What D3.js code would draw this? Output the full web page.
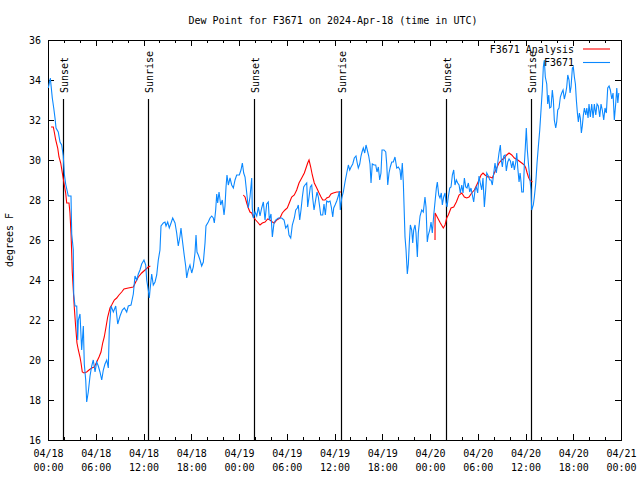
<!DOCTYPE html>
<html><head><meta charset="utf-8">
<script src="https://cdn.jsdelivr.net/npm/d3@7"></script>
<style>
body{margin:0;background:#fff}
text{font-family:"DejaVu Sans Mono","Liberation Mono",monospace;font-size:10px;fill:#000}
</style>
</head><body>
<svg id="chart" width="640" height="480"></svg>
<script>
// ---- data (hours since 2024-04-18 00:00 UTC, degrees F) ----
const titleText = "Dew Point for F3671 on 2024-Apr-18 (time in UTC)";
const yLabel = "degrees F";
const seriesNames = ["F3671 Analysis", "F3671"];
const seriesColors = ["#ff0000", "#0a88ff"];

const obsSeries = [
[0.04,33.6],[0.29,34.1],[0.54,33.1],[0.72,32.6],[0.88,32.1],[1.01,31.6],[1.29,31.4],[1.51,30.9],[1.72,30.75],[1.92,30.2],
[2.05,29.3],[2.22,28.8],[2.55,28.2],[2.89,28.2],[2.98,26.3],[3.18,25.5],[3.23,23.3],[3.39,22.7],[3.61,22.7],[3.73,21.0],
[3.81,22.0],[4.02,22.3],[4.23,20.5],[4.44,21.7],[4.56,19.8],[4.74,19.0],[4.86,17.9],[5.06,18.4],[5.28,19.2],[5.49,19.7],
[5.69,20.0],[5.91,19.4],[6.12,19.9],[6.32,19.7],[6.53,19.4],[6.75,19.0],[6.95,19.5],[7.16,19.8],[7.38,20.0],[7.58,19.6],
[7.70,21.5],[7.92,22.7],[8.21,22.4],[8.51,22.7],[8.76,21.8],[9.05,22.2],[9.34,22.5],[9.59,22.6],[9.89,22.4],[10.09,22.7],
[10.43,22.75],[10.72,23.3],[10.93,24.2],[11.15,24.0],[11.35,24.3],[11.56,24.5],[11.77,24.8],[12.06,25.0],[12.28,24.75],[12.40,24.0],
[12.60,23.5],[12.73,23.1],[12.82,23.5],[13.03,24.3],[13.23,23.75],[13.45,23.9],[13.66,24.25],[13.86,25.0],[14.07,25.5],[14.20,26.7],
[14.49,26.85],[14.70,26.9],[14.83,26.7],[15.04,26.9],[15.24,26.6],[15.46,26.85],[15.67,27.1],[15.96,26.85],[16.17,26.35],[16.37,25.7],
[16.59,26.2],[16.71,26.6],[16.88,26.0],[17.13,25.2],[17.30,24.7],[17.43,24.1],[17.63,24.5],[17.84,24.75],[18.06,24.35],[18.26,24.65],
[18.47,25.35],[18.60,26.25],[18.72,25.4],[18.89,25.25],[19.10,25.0],[19.31,24.7],[19.52,24.9],[19.73,25.85],[19.85,26.7],[20.14,26.9],
[20.36,27.1],[20.57,27.2],[20.77,27.1],[20.90,26.85],[21.07,27.5],[21.20,28.3],[21.32,27.85],[21.49,28.4],[21.70,27.75],[21.90,28.0],
[22.12,27.25],[22.24,27.7],[22.37,28.65],[22.49,29.25],[22.66,28.75],[22.87,29.1],[23.08,28.75],[23.29,28.6],[23.50,29.0],[23.71,29.25],
[24.04,29.25],[24.25,29.5],[24.42,29.85],[24.59,29.35],[24.76,29.15],[24.97,28.35],[25.17,27.6],[25.38,28.15],[25.60,29.1],[25.67,27.6],
[25.80,27.1],[26.01,27.4],[26.23,27.2],[26.43,27.65],[26.64,27.2],[26.85,27.6],[27.06,27.9],[27.27,27.0],[27.48,27.8],[27.68,27.9],
[27.81,27.0],[28.02,27.3],[28.19,26.15],[28.40,26.85],[28.61,27.0],[28.94,27.1],[29.37,27.1],[29.66,27.0],[29.87,26.6],[30.12,26.75],
[30.28,26.25],[30.50,26.1],[30.70,26.75],[30.95,27.1],[31.13,27.5],[31.33,27.6],[31.45,27.75],[31.63,27.0],[31.79,27.5],[31.96,28.15],
[32.13,28.65],[32.29,28.75],[32.51,28.85],[32.63,27.65],[32.80,28.15],[32.96,28.65],[33.14,28.75],[33.26,28.1],[33.43,27.5],[33.59,27.9],
[33.80,28.4],[33.97,28.15],[34.14,27.65],[34.27,27.25],[34.52,27.25],[34.68,27.8],[34.85,27.25],[35.02,27.95],[35.22,27.9],[35.44,27.95],
[35.60,27.65],[35.78,27.15],[35.90,27.6],[36.07,27.75],[36.28,27.95],[36.48,28.2],[36.61,28.45],[36.73,27.5],[36.91,28.1],[37.11,28.4],
[37.32,28.9],[37.54,29.35],[37.74,29.75],[37.91,29.5],[38.08,29.65],[38.29,29.8],[38.49,30.1],[38.70,30.2],[38.83,29.9],[38.99,29.6],
[39.17,29.8],[39.33,30.2],[39.46,30.4],[39.62,30.6],[39.80,30.35],[39.96,30.75],[40.12,30.5],[40.30,30.2],[40.46,29.8],[40.59,28.85],
[40.75,29.8],[40.97,29.75],[41.18,29.75],[41.34,29.4],[41.51,29.65],[41.68,29.0],[41.84,29.35],[41.97,30.5],[42.22,30.5],[42.44,30.4],
[42.56,29.8],[42.69,28.75],[42.85,29.35],[43.01,29.65],[43.19,29.9],[43.39,29.9],[43.60,30.15],[43.82,29.6],[44.02,29.65],[44.23,29.5],
[44.36,29.0],[44.52,29.85],[44.65,28.85],[44.86,26.15],[44.99,25.5],[45.15,24.3],[45.28,24.8],[45.40,25.85],[45.53,26.75],[45.70,26.5],
[45.83,25.85],[45.95,26.5],[46.12,26.75],[46.24,26.35],[46.41,25.15],[46.53,26.35],[46.75,27.2],[46.96,27.5],[47.16,27.4],[47.37,28.15],
[47.50,27.65],[47.66,25.9],[47.79,26.25],[47.97,26.5],[48.13,26.9],[48.29,26.35],[48.47,27.25],[48.63,27.9],[48.80,28.6],[48.92,28.9],
[49.10,28.25],[49.26,28.1],[49.42,28.35],[49.55,27.75],[49.72,28.15],[49.89,28.35],[50.01,27.9],[50.14,27.65],[50.30,28.15],[50.48,28.6],
[50.64,28.65],[50.81,29.25],[50.98,29.5],[51.14,28.75],[51.31,29.0],[51.48,28.85],[51.65,28.75],[51.81,28.35],[51.99,28.75],[52.15,28.35],
[52.32,29.1],[52.49,28.65],[52.65,28.6],[52.82,28.85],[52.99,28.4],[53.15,28.6],[53.32,28.25],[53.49,27.9],[53.66,28.5],[53.82,28.65],
[53.99,28.35],[54.16,29.2],[54.32,28.85],[54.50,28.5],[54.66,29.1],[54.83,27.65],[55.00,28.5],[55.13,29.35],[55.33,29.2],[55.51,29.0],
[55.67,29.0],[55.83,28.75],[56.01,29.35],[56.17,29.85],[56.33,29.35],[56.51,29.85],[56.67,30.35],[56.84,30.75],[56.96,30.0],[57.09,29.65],
[57.26,30.2],[57.43,30.25],[57.59,29.45],[57.77,29.9],[57.93,30.05],[58.10,29.95],[58.27,29.6],[58.43,29.95],[58.60,29.5],[58.78,29.9],
[58.90,30.35],[59.03,29.6],[59.19,28.9],[59.32,29.35],[59.44,28.9],[59.53,28.4],[59.73,28.4],[59.86,29.85],[59.98,30.65],[60.10,31.6],
[60.23,30.5],[60.36,29.85],[60.53,29.15],[60.69,28.5],[60.78,27.5],[60.98,27.75],[61.11,28.15],[61.29,28.85],[61.45,29.85],[61.61,30.65],
[61.79,31.5],[61.95,32.5],[62.11,33.5],[62.24,34.65],[62.36,35.0],[62.49,34.15],[62.67,33.8],[62.79,32.8],[62.92,33.25],[63.04,32.6],
[63.21,32.65],[63.37,33.5],[63.50,33.0],[63.62,32.0],[63.80,31.6],[63.92,31.9],[64.05,32.5],[64.21,32.6],[64.38,33.15],[64.55,33.35],
[64.72,33.5],[64.88,33.05],[65.06,33.35],[65.18,33.65],[65.31,34.25],[65.47,34.0],[65.60,33.35],[65.72,33.65],[65.89,34.6],[66.01,34.65],
[66.14,34.15],[66.27,33.8],[66.39,33.0],[66.52,32.35],[66.64,31.9],[66.77,32.35],[66.89,32.1],[67.02,31.35],[67.14,31.7],[67.27,32.25],
[67.40,32.6],[67.57,32.25],[67.70,32.6],[67.86,32.1],[67.98,32.8],[68.15,32.15],[68.32,32.8],[68.49,32.1],[68.65,32.8],[68.83,32.25],
[68.99,32.8],[69.15,32.7],[69.33,32.15],[69.49,32.8],[69.65,32.5],[69.83,32.0],[69.99,32.6],[70.16,32.35],[70.33,33.6],[70.50,33.7],
[70.66,33.5],[70.84,33.05],[71.00,33.35],[71.16,32.0],[71.34,32.85],[71.47,33.6],[71.60,32.85],[71.72,33.35]
];

// analysis series; null marks a gap
const analysisSeries = [
[0.38,31.65],[0.67,31.65],[0.79,31.4],[0.97,31.0],[1.22,30.6],[1.38,30.15],[1.60,29.85],[1.80,29.35],[2.01,28.85],[2.22,28.35],
[2.35,27.85],[2.64,27.85],[2.76,27.35],[2.89,26.35],[2.98,25.35],[3.05,24.4],[3.18,23.5],[3.30,22.65],[3.48,21.65],[3.64,20.85],
[3.81,20.5],[4.02,20.15],[4.15,19.85],[4.31,19.4],[4.52,19.35],[4.86,19.4],[5.15,19.5],[5.49,19.6],[5.82,19.65],[6.12,19.9],
[6.41,20.15],[6.66,20.4],[6.87,20.85],[7.07,21.15],[7.29,21.65],[7.50,22.15],[7.79,22.6],[8.00,22.75],[8.33,23.0],[8.63,23.1],
[8.92,23.25],[9.26,23.4],[9.55,23.55],[10.09,23.6],[10.72,23.65],[11.02,23.9],[11.35,24.15],[11.77,24.35],[12.19,24.5],[12.60,24.65],
[12.86,24.7],[18.0,null],
[24.54,28.25],[24.76,28.15],[24.97,27.85],[25.17,27.6],[25.38,27.4],[25.60,27.35],[25.80,27.15],[26.10,27.0],[26.43,26.85],[26.64,26.75],
[26.93,26.85],[27.27,26.9],[27.61,27.05],[27.90,27.0],[28.19,26.9],[28.44,26.85],[28.74,27.0],[29.15,27.1],[29.44,27.35],[29.78,27.5],
[30.07,27.6],[30.32,27.85],[30.62,28.15],[30.95,28.25],[31.25,28.5],[31.54,28.85],[31.88,29.1],[32.21,29.35],[32.42,29.6],[32.63,29.85],
[32.80,30.0],[33.01,29.65],[33.21,29.25],[33.46,28.85],[33.77,28.6],[34.06,28.35],[34.31,28.15],[34.52,28.0],[34.81,28.0],[35.02,28.1],
[35.31,28.15],[35.56,28.3],[35.85,28.35],[36.28,28.4],[36.57,28.4],[36.82,28.4],[42.0,null],
[48.63,26.0],[48.64,27.35],[48.97,27.1],[49.30,26.85],[49.67,26.6],[49.89,26.75],[50.10,27.1],[50.30,27.25],[50.64,27.6],[50.98,27.65],
[51.31,27.9],[51.65,28.25],[51.99,28.35],[52.32,28.15],[52.61,28.1],[52.90,28.15],[53.24,28.35],[53.57,28.5],[53.87,28.75],[54.16,29.0],
[54.41,29.25],[54.66,29.35],[54.91,29.25],[55.25,29.15],[55.54,29.15],[55.83,29.1],[56.08,29.35],[56.38,29.6],[56.67,29.85],[57.01,30.0],
[57.34,30.1],[57.64,30.25],[57.93,30.35],[58.27,30.25],[58.60,30.1],[59.03,30.0],[59.53,29.85],[59.86,29.75],[60.04,29.6],[60.21,29.35],
[60.37,29.15],[60.54,29.0],[60.70,28.95],[60.87,28.9]
];

const eventHours = [1.92, 12.60, 25.89, 36.78, 50.05, 60.69];
const eventLabels = ["Sunset", "Sunrise", "Sunset", "Sunrise", "Sunset", "Sunrise"];
const yTickValues = [16, 18, 20, 22, 24, 26, 28, 30, 32, 34, 36];
const xMajorHours = [0, 6, 12, 18, 24, 30, 36, 42, 48, 54, 60, 66, 72];
const xMinorHours = d3.range(0, 73, 2);

// ---- drawing ----
const base = Date.UTC(2024, 3, 18, 0, 0);
const toDate = h => new Date(base + h * 3600000);

const W = 640, H = 480;
const m = {left: 48, right: 19, top: 40, bottom: 40};
const svg = d3.select("#chart");

const x = d3.scaleUtc().domain([toDate(0), toDate(72)]).range([m.left, W - m.right]);
const y = d3.scaleLinear().domain([16, 36]).range([H - m.bottom, m.top]);

// title
svg.append("text").attr("x", 333).attr("y", 24).attr("text-anchor", "middle").text(titleText);
// y label
svg.append("text").attr("transform", `translate(13,${(m.top + H - m.bottom) / 2}) rotate(-90)`)
  .attr("text-anchor", "middle").text(yLabel);

const fmtD = d3.utcFormat("%m/%d"), fmtT = d3.utcFormat("%H:%M");

// bottom axis with labels
const gB = svg.append("g").attr("transform", `translate(0,${H - m.bottom})`)
  .call(d3.axisBottom(x).tickValues(xMajorHours.map(toDate)).tickSize(-6).tickPadding(10).tickFormat(""));
gB.selectAll(".tick text").each(function(d) {
  const t = d3.select(this).attr("dy", null).attr("y", 17);
  t.append("tspan").attr("x", 0).text(fmtD(d));
  t.append("tspan").attr("x", 0).attr("dy", 14).text(fmtT(d));
});
svg.append("g").attr("transform", `translate(0,${H - m.bottom})`)
  .call(d3.axisBottom(x).tickValues(xMinorHours.map(toDate)).tickSize(-3).tickFormat(""));
// top axis ticks
svg.append("g").attr("transform", `translate(0,${m.top})`)
  .call(d3.axisTop(x).tickValues(xMajorHours.map(toDate)).tickSize(-6).tickFormat(""));
svg.append("g").attr("transform", `translate(0,${m.top})`)
  .call(d3.axisTop(x).tickValues(xMinorHours.map(toDate)).tickSize(-3).tickFormat(""));
// left axis
svg.append("g").attr("transform", `translate(${m.left},0)`)
  .call(d3.axisLeft(y).tickValues(yTickValues).tickSize(-6).tickPadding(7).tickFormat(d3.format("d")));
// right axis ticks
svg.append("g").attr("transform", `translate(${W - m.right},0)`)
  .call(d3.axisRight(y).tickValues(yTickValues).tickSize(-6).tickFormat(""));

svg.selectAll(".domain").remove();
svg.selectAll(".tick line").attr("stroke", "#000").attr("shape-rendering", "crispEdges");
svg.selectAll(".tick text").style("font-family", '"DejaVu Sans Mono","Liberation Mono",monospace').style("font-size", "10px").attr("fill", "#000");

// frame
svg.append("rect").attr("x", m.left).attr("y", m.top)
  .attr("width", W - m.right - m.left).attr("height", H - m.bottom - m.top)
  .attr("fill", "none").attr("stroke", "#000").attr("shape-rendering", "crispEdges");

// event lines
const ev = svg.append("g");
eventHours.forEach((h, i) => {
  const ex = Math.round(x(toDate(h))) + 0.5;
  ev.append("line").attr("x1", ex).attr("x2", ex).attr("y1", 99).attr("y2", H - m.bottom)
    .attr("stroke", "#000").attr("stroke-width", 1.2);
  ev.append("text").attr("transform", `translate(${ex + 4.5},93) rotate(-90)`).text(eventLabels[i]);
});

// lines
const line = d3.line().defined(d => d[1] != null)
  .x(d => x(toDate(d[0]))).y(d => y(d[1]));

svg.append("path").datum(analysisSeries).attr("d", line)
  .attr("fill", "none").attr("stroke", seriesColors[0]).attr("stroke-width", 1.1);
svg.append("path").datum(obsSeries).attr("d", line)
  .attr("fill", "none").attr("stroke", seriesColors[1]).attr("stroke-width", 1.1);

// legend
const lg = svg.append("g");
seriesNames.forEach((n, i) => {
  const ly = 49 + i * 13.5;
  lg.append("text").attr("x", 574).attr("y", ly + 3.5).attr("text-anchor", "end").text(n);
  lg.append("line").attr("x1", 583).attr("x2", 610).attr("y1", ly).attr("y2", ly)
    .attr("stroke", seriesColors[i]).attr("stroke-width", 1.1);
});
</script>
</body></html>
